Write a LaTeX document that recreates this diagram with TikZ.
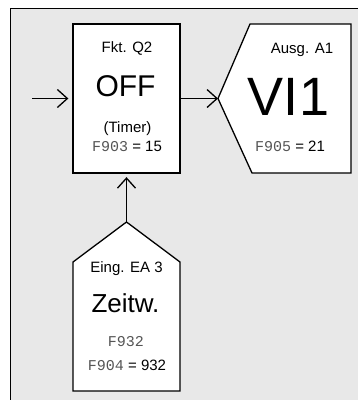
\documentclass[tikz,border=0pt]{standalone}
\usepackage{fontspec}
\setmainfont{Liberation Sans}
\newfontfamily\segfont{Liberation Mono}
\usetikzlibrary{arrows.meta}
\definecolor{panel}{HTML}{E8E8E8}
\definecolor{seggray}{HTML}{555555}

\begin{document}
\begin{tikzpicture}[
        x=1pt, y=-1pt,
        outline/.style = {draw, line width=1.3pt, fill=white},
        box/.style     = {outline, minimum width=107pt, minimum height=149pt, inner sep=0pt},
        arrow/.style   = {-{Straight Barb[length=10pt, width=18pt, line width=1.3pt]}, line width=1.3pt},
        lbl/.style     = {anchor=base, inner sep=0pt, font=\fontsize{15}{17}\selectfont},
        seg/.style     = {anchor=base, inner sep=0pt, font=\fontsize{15}{17}\selectfont},
    ]
        \useasboundingbox (0,0) rectangle (358,400);
        % panel
        \fill[panel] (10.5,8.5) rectangle (358,400);
        \draw[line width=1.5pt] (358,8.5) -- (10.5,8.5) -- (10.5,400);
        % function block
        \node[box] (fkt) at (126.5,98.5) {};
        \node[lbl] (fktname) at (127,52.7) {Fkt. Q2};
        \node[lbl, font=\fontsize{30}{32}\selectfont] (fktval) at (125.5,96.7) {OFF};
        \node[lbl] (fkttyp) at (127.5,132.7) {(Timer)};
        \node[seg] (fktpar) at (127,151.7) {{\segfont\fontsize{15}{16}\selectfont\color{seggray}F903} = 15};
        % output block
        \draw[outline] (218,98.5) coordinate (ausgtip) -- (250,24) -- (351,24) -- (351,173) -- (252,173) -- cycle;
        \node[lbl] (ausgname) at (302,53) {Ausg. A1};
        \node[lbl, font=\fontsize{54}{56}\selectfont] (ausgval) at (288.5,115) {VI1};
        \node[seg] (ausgpar) at (290,151.7) {{\segfont\fontsize{15}{16}\selectfont\color{seggray}F905} = 21};
        % input block
        \draw[outline] (126.5,222) coordinate (eingtip) -- (180,262) -- (180,391) -- (73,391) -- (73,262) -- cycle;
        \node[lbl] (eingname) at (126.5,272) {Eing. EA 3};
        \node[lbl, font=\fontsize{26}{28}\selectfont] (eingval) at (125.5,312.3) {Zeitw.};
        \node[seg] (eingsrc) at (126,346.7) {\segfont\fontsize{15}{16}\selectfont\color{seggray}F932};
        \node[seg] (eingpar) at (127,370) {{\segfont\fontsize{15}{16}\selectfont\color{seggray}F904} = 932};
        % connectors
        \coordinate (src) at (32,98.5);
        \draw[arrow, shorten >=4pt] (src) -- (fkt.west);
        \draw[arrow] (fkt.east) -- (ausgtip);
        \draw[arrow, shorten >=3.5pt] (eingtip) -- (fkt.south);
    \end{tikzpicture}
\end{document}
